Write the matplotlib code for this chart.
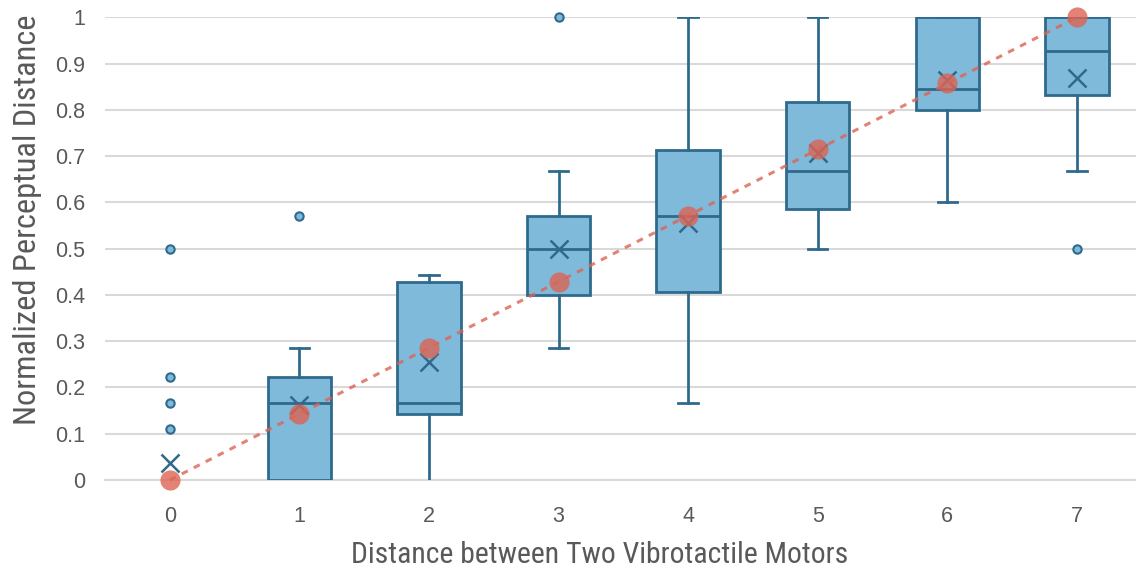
import numpy as np
import matplotlib.pyplot as plt
from matplotlib import font_manager

distances = [0, 1, 2, 3, 4, 5, 6, 7]
q1 = [0.0, 0.0, 0.143, 0.400, 0.407, 0.585, 0.800, 0.833]
median = [0.0, 0.167, 0.167, 0.500, 0.571, 0.667, 0.844, 0.927]
q3 = [0.0, 0.222, 0.428, 0.571, 0.714, 0.816, 1.000, 1.000]
whislo = [0.0, 0.0, 0.0, 0.286, 0.167, 0.500, 0.600, 0.667]
whishi = [0.0, 0.286, 0.444, 0.667, 1.000, 1.000, 1.000, 1.000]
means = [0.037, 0.162, 0.254, 0.500, 0.556, 0.706, 0.864, 0.868]
outliers = [[0.5, 0.222, 0.167, 0.111], [0.571], [], [1.0], [], [], [], [0.5]]

# Ideal linear perceptual distance (d / 7)
ideal = [0, 1/7, 2/7, 3/7, 4/7, 5/7, 6/7, 1.0]

box_fill = '#7fbadb'
box_edge = '#2f6a8c'
red = '#dd6454'
text_gray = '#595959'

# pick a narrow face for the axis titles if one is around
names = {f.name for f in font_manager.fontManager.ttflist}
narrow = ['Liberation Sans Narrow', 'Roboto Condensed', 'Open Sans Condensed',
          'DejaVu Sans Condensed', 'Noto Sans Condensed']
label_font = next((n for n in narrow if n in names), 'Roboto')

fig = plt.figure(figsize=(11.36, 5.72), dpi=100)
ax = fig.add_axes([0.0924, 0.1608, 0.9126, 0.809])

stats = []
for i in range(len(distances)):
    stats.append(dict(q1=q1[i], med=median[i], q3=q3[i], whislo=whislo[i],
                      whishi=whishi[i], fliers=outliers[i], mean=means[i]))

bp = ax.bxp(stats, positions=distances, widths=0.49, patch_artist=True,
            showmeans=False, showcaps=True,
            boxprops=dict(facecolor=box_fill, edgecolor=box_edge, linewidth=2),
            medianprops=dict(color=box_edge, linewidth=2),
            whiskerprops=dict(color=box_edge, linewidth=2),
            capprops=dict(color=box_edge, linewidth=2),
            capwidths=0.15,
            flierprops=dict(marker='o', markersize=6, markerfacecolor=box_fill,
                            markeredgecolor=box_edge, markeredgewidth=1.5),
            zorder=3)

# hide the degenerate box at distance 0 and caps sitting on the baseline
bp['boxes'][0].set_visible(False)
bp['medians'][0].set_visible(False)
for line in bp['caps'] + bp['whiskers']:
    if np.all(np.asarray(line.get_ydata(), dtype=float) == 0):
        line.set_visible(False)
for fl in bp['fliers']:
    fl.set_clip_on(False)

ax.plot(distances, means, linestyle='none', marker='x', markersize=13,
        markeredgewidth=1.8, color=box_edge, zorder=5)

ax.plot([distances[0], distances[-1]], [ideal[0], ideal[-1]], linestyle=(0, (2.2, 2.2)),
        color=red, alpha=0.8, linewidth=2.2, zorder=6, clip_on=False)
ax.plot(distances, ideal, linestyle='none', marker='o', markersize=14.5,
        color=red, alpha=0.8, markeredgewidth=0, zorder=7, clip_on=False)

ax.set_xlim(-0.5, 7.5)
ax.set_ylim(0, 1)
ax.set_yticks(np.arange(0, 1.01, 0.1))
ax.set_yticklabels(['0', '0.1', '0.2', '0.3', '0.4', '0.5', '0.6', '0.7', '0.8', '0.9', '1'])
ax.set_xticks(distances)
ax.set_xticklabels([str(d) for d in distances])

ax.grid(axis='y', color='#d9d9d9', linewidth=1.5, zorder=0)
ax.set_axisbelow(True)
for side in ['top', 'right', 'left']:
    ax.spines[side].set_visible(False)
ax.spines['bottom'].set_color('#d9d9d9')
ax.spines['bottom'].set_linewidth(1.5)
ax.tick_params(length=0, labelsize=15.5, labelcolor=text_gray)
ax.tick_params(axis='x', pad=19)
ax.tick_params(axis='y', pad=14)
for lbl in ax.get_xticklabels() + ax.get_yticklabels():
    lbl.set_family(['Liberation Sans', 'DejaVu Sans'])

# axis titles placed in figure pixels, sized to their target lengths
xl = fig.text(600 / 1136, 1 - 555 / 572, 'Distance between Two Vibrotactile Motors',
              fontsize=25, color=text_gray, family=label_font, ha='center', va='center')
yl = fig.text(28 / 1136, 1 - 220 / 572, 'Normalized Perceptual Distance',
              fontsize=25, color=text_gray, family=label_font, ha='center', va='center',
              rotation=90)
renderer = fig.canvas.get_renderer()
xl.set_fontsize(25 * 500 / xl.get_window_extent(renderer).width)
yl.set_fontsize(25 * 410 / yl.get_window_extent(renderer).height)

fig.savefig('out.png', dpi=100)
